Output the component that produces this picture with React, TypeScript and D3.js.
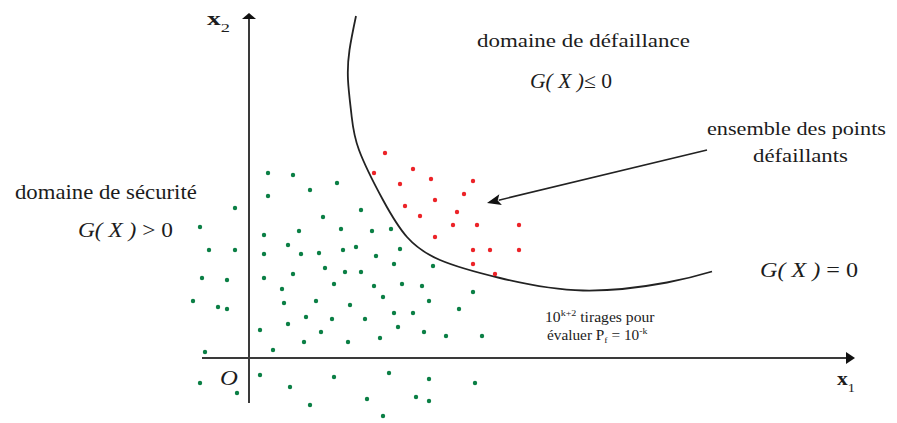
import React, { useLayoutEffect, useRef } from "react";
import * as d3 from "d3";

const W = 897;
const H = 423;

// Simulated draws in the safe domain (x1, x2)
const safePoints: [number, number][] = [
  [1.9, 18.5], [4.4, 18.3], [8.8, 17.5], [6.1, 16.8], [1.9, 16.2], [-1.4, 15.0],
  [11.2, 14.8], [7.4, 14.1], [-4.9, 13.1], [5.0, 12.7], [9.2, 12.9], [12.3, 12.7],
  [14.2, 12.9], [1.5, 12.3], [3.9, 11.3], [10.7, 11.1], [-4.0, 10.8], [-1.4, 10.8],
  [1.5, 10.4], [5.2, 10.4], [7.0, 10.5], [9.4, 10.8], [12.7, 10.2], [15.1, 10.9],
  [14.5, 9.4], [18.4, 9.2], [7.6, 9.0], [9.6, 8.6], [11.2, 8.6], [4.4, 8.4],
  [1.5, 8.0], [-4.7, 8.0], [-2.2, 7.8], [8.5, 7.4], [12.5, 7.2], [15.3, 7.4],
  [17.3, 7.2], [3.3, 6.9], [13.4, 6.1], [18.0, 5.7], [22.4, 6.6], [-5.6, 5.7],
  [-3.1, 5.1], [-2.2, 4.9], [3.5, 5.5], [6.7, 5.7], [10.1, 5.3], [21.0, 4.9],
  [14.5, 4.5], [16.4, 4.5], [5.7, 4.1], [8.3, 3.9], [11.6, 3.9], [3.9, 3.4],
  [1.1, 2.8], [14.9, 3.1], [7.2, 2.6], [17.5, 2.6], [19.7, 2.2], [23.3, 2.2],
  [5.5, 1.6], [9.9, 1.6], [13.1, 2.0], [2.4, 0.8], [-4.4, 0.6],
  [-4.9, -2.5], [-1.2, -3.5], [1.1, -1.7], [4.1, -2.9], [8.5, -1.9], [14.0, -1.5],
  [18.0, -2.1], [22.6, -2.5], [6.1, -4.7], [11.8, -4.1], [16.7, -3.9], [18.0, -4.3],
  [13.4, -5.8],
];

// Draws that fall in the failure domain
const failPoints: [number, number][] = [
  [13.6, 20.5], [12.5, 18.5], [16.4, 18.9], [15.1, 17.4], [18.2, 17.9], [22.4, 17.7],
  [18.6, 15.8], [21.5, 16.4], [15.6, 15.2], [17.1, 14.2], [20.8, 14.6], [20.4, 13.3],
  [22.8, 13.3], [27.0, 13.3], [18.6, 12.1], [22.4, 10.8], [24.1, 10.8], [27.0, 10.8],
  [22.4, 9.4], [24.6, 8.4],
];

// Limit state G(X) = 0
const limitCurve: [number, number][] = [
  [10.7, 34.2], [10.05, 30.8], [9.9, 27.8], [10.25, 24.3], [11.0, 20.8], [13.4, 15.8],
  [15.8, 12.1], [19.1, 9.8], [25.1, 8.0], [33.4, 6.75], [41.8, 7.55], [46.3, 8.65],
];

const axisX1: [number, number] = [-4.7, 60.6];
const axisX2: [number, number] = [-4.5, 34.5];
const calloutFrom: [number, number] = [45.8, 20.8];
const calloutTo: [number, number] = [23.8, 15.5];

const x = d3.scaleLinear().domain([0, 10]).range([249, 349]);
const y = d3.scaleLinear().domain([0, 10]).range([358, 258]);

const FONT = "'Liberation Serif', 'Times New Roman', serif";
const INK = "#1c1c1c";

function FitText(props: {
  x: number;
  y: number;
  w: number;
  size: number;
  italic?: boolean;
  bold?: boolean;
  children: React.ReactNode;
}) {
  const ref = useRef<SVGTextElement>(null);
  useLayoutEffect(() => {
    const el = ref.current;
    if (!el) return;
    el.setAttribute("transform", `translate(${props.x},${props.y})`);
    const bb = el.getBBox();
    const sx = bb.width > 0 ? props.w / bb.width : 1;
    el.setAttribute(
      "transform",
      `translate(${props.x},${props.y}) scale(${sx},1) translate(${-bb.x},0)`
    );
  }, [props.x, props.y, props.w]);
  return (
    <text
      ref={ref}
      x={0}
      y={0}
      fontFamily={FONT}
      fontSize={props.size}
      fontStyle={props.italic ? "italic" : "normal"}
      fontWeight={props.bold ? "bold" : "normal"}
      fill={INK}
      transform={`translate(${props.x},${props.y})`}
    >
      {props.children}
    </text>
  );
}

export default function App() {
  const line = d3
    .line<[number, number]>()
    .x((d) => x(d[0]))
    .y((d) => y(d[1]))
    .curve(d3.curveNatural);

  // axis geometry
  const ax0 = x(axisX1[0]);
  const ax1 = x(axisX1[1]);
  const ay = y(0);
  const ayx = x(0);
  const ay0 = y(axisX2[0]);
  const ay1 = y(axisX2[1]);

  // callout arrow
  const fx = x(calloutFrom[0]);
  const fy = y(calloutFrom[1]);
  const tx = x(calloutTo[0]);
  const ty = y(calloutTo[1]);
  const dx = tx - fx;
  const dy = ty - fy;
  const len = Math.hypot(dx, dy);
  const ux = dx / len;
  const uy = dy / len;
  const headL = 14;
  const headW = 5.5;
  const bx = tx - ux * headL;
  const by = ty - uy * headL;
  const head = `${tx},${ty} ${bx - uy * headW},${by + ux * headW} ${bx + ux * 3},${by + uy * 3} ${bx + uy * headW},${by - ux * headW}`;

  return (
    <svg
      width={W}
      height={H}
      viewBox={`0 0 ${W} ${H}`}
      style={{ position: "absolute", left: 0, top: 0, background: "#fff" }}
    >
      <rect x={0} y={0} width={W} height={H} fill="#fff" />

      {/* axes */}
      <line x1={ax0} y1={ay} x2={ax1 - 6} y2={ay} stroke="#3a3a3a" strokeWidth={2} />
      <polygon points={`${ax1},${ay} ${ax1 - 9},${ay - 6} ${ax1 - 9},${ay + 6}`} fill="#111" />
      <line x1={ayx} y1={ay0} x2={ayx} y2={ay1 + 5} stroke="#3a3a3a" strokeWidth={2} />
      <polygon points={`${ayx},${ay1} ${ayx - 7},${ay1 + 6} ${ayx + 7},${ay1 + 6}`} fill="#111" />

      {/* limit state curve */}
      <path d={line(limitCurve) || ""} fill="none" stroke="#222" strokeWidth={1.8} />

      {/* callout arrow */}
      <line x1={fx} y1={fy} x2={bx + ux * 2} y2={by + uy * 2} stroke="#222" strokeWidth={1.6} />
      <polygon points={head} fill="#111" />

      {/* points */}
      {safePoints.map((d, i) => (
        <circle key={"s" + i} cx={x(d[0])} cy={y(d[1])} r={2.2} fill="#0b7f45" />
      ))}
      {failPoints.map((d, i) => (
        <circle key={"f" + i} cx={x(d[0])} cy={y(d[1])} r={2.2} fill="#ec2328" />
      ))}

      {/* labels */}
      <FitText x={477} y={47} w={213} size={19}>domaine de défaillance</FitText>
      <FitText x={530} y={88} w={82} size={21}>
        <tspan fontStyle="italic">G( X )</tspan>
        <tspan>≤ 0</tspan>
      </FitText>
      <FitText x={15} y={199} w={182} size={20}>domaine de sécurité</FitText>
      <FitText x={78} y={237} w={95} size={22}>
        <tspan fontStyle="italic">G( X )</tspan>
        <tspan> &gt; 0</tspan>
      </FitText>
      <FitText x={707} y={135} w={179} size={18}>ensemble des points</FitText>
      <FitText x={753} y={162} w={95} size={18}>défaillants</FitText>
      <FitText x={760} y={277} w={98} size={20}>
        <tspan fontStyle="italic">G( X )</tspan>
        <tspan> = 0</tspan>
      </FitText>
      <FitText x={545} y={322} w={110} size={14}>
        <tspan>10</tspan>
        <tspan fontSize={9} dy={-6}>k+2</tspan>
        <tspan dy={6}> tirages pour</tspan>
      </FitText>
      <FitText x={547} y={340} w={101} size={14}>
        <tspan>évaluer P</tspan>
        <tspan fontSize={9} dy={3}>f</tspan>
        <tspan dy={-3}> = 10</tspan>
        <tspan fontSize={9} dy={-6}>-k</tspan>
      </FitText>
      <FitText x={220} y={385} w={18} size={22} italic>O</FitText>
      <FitText x={207} y={25} w={23} size={18} bold>
        <tspan>x</tspan>
        <tspan fontSize={12} fontWeight="normal" dy={7}>2</tspan>
      </FitText>
      <FitText x={837} y={385} w={18} size={18} bold>
        <tspan>x</tspan>
        <tspan fontSize={12} fontWeight="normal" dy={7}>1</tspan>
      </FitText>
    </svg>
  );
}
